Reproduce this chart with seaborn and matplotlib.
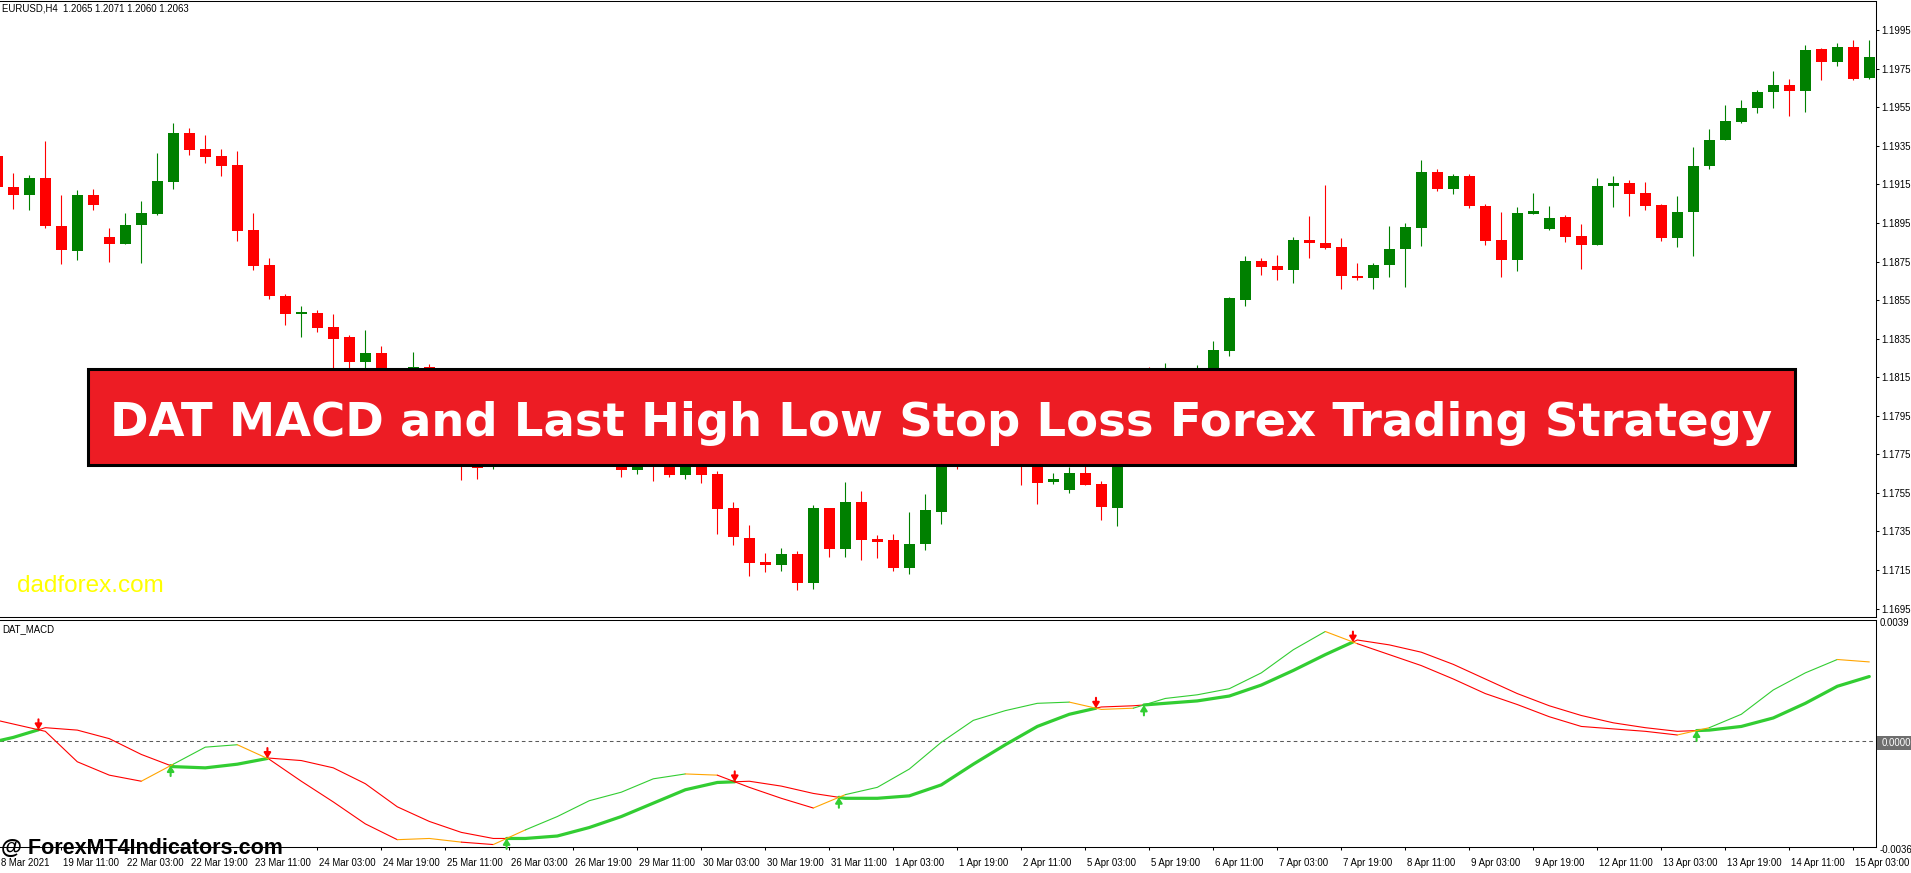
import numpy as np
import pandas as pd
import matplotlib
matplotlib.use("Agg")
import matplotlib.pyplot as plt
import matplotlib.transforms as mtransforms
from matplotlib.patches import Rectangle
import seaborn as sns

W, H = 1911, 873

# ---------------- data ----------------
bars = list(range(-1, 117))
opens = [1.19298, 1.19137, 1.19095, 1.19184, 1.18935, 1.18805, 1.19095, 1.18878, 1.18841, 1.18940,
         1.18997, 1.19163, 1.19417, 1.19334, 1.19298, 1.19251, 1.18914, 1.18732, 1.18571, 1.18478,
         1.18483, 1.18411, 1.18359, 1.18229, 1.18276, 1.18110, 1.18032, 1.18203, 1.18058, 1.17876,
         1.17747, 1.17684, 1.17747, 1.17824, 1.17773, 1.17850, 1.17783, 1.17835, 1.17762, 1.17731,
         1.17669, 1.17747, 1.17710, 1.17643, 1.17720, 1.17648, 1.17472, 1.17316, 1.17192, 1.17176,
         1.17233, 1.17083, 1.17472, 1.17259, 1.17503, 1.17311, 1.17306, 1.17160, 1.17285, 1.17451,
         1.17835, 1.17762, 1.17928, 1.17824, 1.17747, 1.17710, 1.17607, 1.17565, 1.17653, 1.17596,
         1.17472, 1.17902, 1.18136, 1.18032, 1.18162, 1.18084, 1.18146, 1.18286, 1.18551, 1.18753,
         1.18727, 1.18706, 1.18862, 1.18847, 1.18826, 1.18675, 1.18665, 1.18732, 1.18815, 1.18924,
         1.19215, 1.19127, 1.19194, 1.19038, 1.18862, 1.18758, 1.18997, 1.18919, 1.18981, 1.18883,
         1.18836, 1.19142, 1.19158, 1.19106, 1.19044, 1.18873, 1.19007, 1.19246, 1.19381, 1.19474,
         1.19547, 1.19630, 1.19666, 1.19635, 1.19853, 1.19785, 1.19863, 1.19702]
highs = [1.19329, 1.19210, 1.19199, 1.19376, 1.19095, 1.19121, 1.19127, 1.18924, 1.19002, 1.19064,
         1.19313, 1.19469, 1.19443, 1.19407, 1.19334, 1.19324, 1.19002, 1.18769, 1.18582, 1.18520,
         1.18499, 1.18478, 1.18369, 1.18395, 1.18312, 1.18162, 1.18281, 1.18219, 1.18110, 1.17902,
         1.17783, 1.17798, 1.17866, 1.17876, 1.17902, 1.17887, 1.17876, 1.17866, 1.17798, 1.17762,
         1.17773, 1.17783, 1.17747, 1.17762, 1.17747, 1.17664, 1.17503, 1.17383, 1.17238, 1.17264,
         1.17249, 1.17487, 1.17472, 1.17607, 1.17560, 1.17332, 1.17337, 1.17451, 1.17544, 1.17876,
         1.17902, 1.17980, 1.17970, 1.17876, 1.17798, 1.17747, 1.17653, 1.17684, 1.17690, 1.17612,
         1.17928, 1.18110, 1.18203, 1.18224, 1.18177, 1.18214, 1.18338, 1.18566, 1.18779, 1.18769,
         1.18784, 1.18878, 1.18987, 1.19147, 1.18873, 1.18743, 1.18743, 1.18935, 1.18950, 1.19277,
         1.19230, 1.19205, 1.19205, 1.19049, 1.19007, 1.19033, 1.19106, 1.19038, 1.18992, 1.18945,
         1.19184, 1.19194, 1.19173, 1.19163, 1.19049, 1.19090, 1.19345, 1.19438, 1.19562, 1.19588,
         1.19640, 1.19739, 1.19697, 1.19874, 1.19858, 1.19884, 1.19900, 1.19900]
lows = [1.19121, 1.19023, 1.19018, 1.18924, 1.18737, 1.18758, 1.19018, 1.18748, 1.18841, 1.18743,
        1.18992, 1.19127, 1.19303, 1.19262, 1.19194, 1.18857, 1.18706, 1.18556, 1.18421, 1.18359,
        1.18385, 1.18136, 1.18188, 1.18198, 1.18058, 1.17980, 1.17970, 1.18006, 1.17824, 1.17617,
        1.17622, 1.17674, 1.17720, 1.17742, 1.17747, 1.17731, 1.17747, 1.17720, 1.17710, 1.17632,
        1.17648, 1.17612, 1.17632, 1.17622, 1.17601, 1.17337, 1.17280, 1.17119, 1.17140, 1.17145,
        1.17046, 1.17051, 1.17218, 1.17218, 1.17202, 1.17212, 1.17145, 1.17129, 1.17254, 1.17389,
        1.17674, 1.17731, 1.17783, 1.17705, 1.17591, 1.17492, 1.17596, 1.17550, 1.17591, 1.17409,
        1.17378, 1.17876, 1.17980, 1.18006, 1.18042, 1.18058, 1.18110, 1.18260, 1.18520, 1.18681,
        1.18655, 1.18639, 1.18769, 1.18815, 1.18608, 1.18655, 1.18608, 1.18670, 1.18618, 1.18831,
        1.19116, 1.19101, 1.19028, 1.18836, 1.18670, 1.18701, 1.18997, 1.18914, 1.18852, 1.18712,
        1.18836, 1.19033, 1.18987, 1.19018, 1.18857, 1.18826, 1.18779, 1.19230, 1.19381, 1.19469,
        1.19521, 1.19547, 1.19505, 1.19526, 1.19692, 1.19765, 1.19692, 1.19697]
closes = [1.19137, 1.19095, 1.19184, 1.18935, 1.18810, 1.19095, 1.19044, 1.18841, 1.18940, 1.19002,
          1.19168, 1.19417, 1.19329, 1.19293, 1.19246, 1.18909, 1.18727, 1.18571, 1.18478, 1.18488,
          1.18405, 1.18348, 1.18229, 1.18276, 1.18110, 1.18032, 1.18203, 1.18058, 1.17876, 1.17710,
          1.17679, 1.17747, 1.17824, 1.17773, 1.17850, 1.17783, 1.17835, 1.17762, 1.17731, 1.17669,
          1.17731, 1.17695, 1.17643, 1.17720, 1.17643, 1.17467, 1.17321, 1.17186, 1.17176, 1.17233,
          1.17083, 1.17472, 1.17259, 1.17503, 1.17306, 1.17295, 1.17160, 1.17285, 1.17461, 1.17824,
          1.17762, 1.17928, 1.17824, 1.17731, 1.17684, 1.17601, 1.17622, 1.17653, 1.17591, 1.17477,
          1.17902, 1.18032, 1.18032, 1.18162, 1.18084, 1.18162, 1.18291, 1.18561, 1.18753, 1.18722,
          1.18706, 1.18862, 1.18847, 1.18821, 1.18675, 1.18665, 1.18732, 1.18815, 1.18930, 1.19215,
          1.19127, 1.19194, 1.19038, 1.18857, 1.18758, 1.19002, 1.19012, 1.18976, 1.18878, 1.18836,
          1.19142, 1.19158, 1.19101, 1.19038, 1.18873, 1.19007, 1.19246, 1.19381, 1.19479, 1.19547,
          1.19630, 1.19666, 1.19635, 1.19848, 1.19785, 1.19863, 1.19697, 1.19811]

price_ticks = [1.1695, 1.1715, 1.1735, 1.1755, 1.1775, 1.1795, 1.1815, 1.1835,
               1.1855, 1.1875, 1.1895, 1.1915, 1.1935, 1.1955, 1.1975, 1.1995]

time_bars = [3, 7, 11, 15, 19, 23, 27, 31, 35, 39, 43, 47, 51, 55, 59, 63, 67, 71, 75,
             79, 83, 87, 91, 95, 99, 103, 107, 111, 115]
time_labels = ["19 Mar 11:00", "22 Mar 03:00", "22 Mar 19:00", "23 Mar 11:00", "24 Mar 03:00",
               "24 Mar 19:00", "25 Mar 11:00", "26 Mar 03:00", "26 Mar 19:00", "29 Mar 11:00",
               "30 Mar 03:00", "30 Mar 19:00", "31 Mar 11:00", "1 Apr 03:00", "1 Apr 19:00",
               "2 Apr 11:00", "5 Apr 03:00", "5 Apr 19:00", "6 Apr 11:00", "7 Apr 03:00",
               "7 Apr 19:00", "8 Apr 11:00", "9 Apr 03:00", "9 Apr 19:00", "12 Apr 11:00",
               "13 Apr 03:00", "13 Apr 19:00", "14 Apr 11:00", "15 Apr 03:00"]
first_time_label = "8 Mar 2021"

macd_bars = [-1, 0, 2, 4, 6, 8, 10, 12, 14, 16, 18, 20, 22, 24, 26, 28, 30, 32, 34, 36, 38,
             40, 42, 44, 46, 48, 50, 52, 54, 56, 58, 60, 62, 64, 66, 68, 70, 72, 74, 76, 78,
             80, 82, 84, 86, 88, 90, 92, 94, 96, 98, 100, 102, 104, 106, 108, 110, 112, 114, 116]
macd_line = [0.000684, 0.000563, 0.000322, -0.000684, -0.001126, -0.001327, -0.000764, -0.000201,
             -0.000121, -0.000603, -0.001327, -0.002011, -0.002735, -0.003258, -0.003218, -0.003339,
             -0.003419, -0.002936, -0.002494, -0.001971, -0.001689, -0.001247, -0.001086, -0.001126,
             -0.001529, -0.001891, -0.002212, -0.001770, -0.001529, -0.000925, -0.000040, 0.000684,
             0.001006, 0.001247, 0.001287, 0.001046, 0.001086, 0.001408, 0.001529, 0.001730,
             0.002253, 0.003017, 0.003620, 0.003218, 0.002856, 0.002494, 0.002051, 0.001569,
             0.001207, 0.000804, 0.000483, 0.000402, 0.000322, 0.000201, 0.000442, 0.000885,
             0.001689, 0.002253, 0.002695, 0.002615]
signal_line = [0.000000, 0.000121, 0.000442, 0.000362, 0.000080, -0.000442, -0.000845, -0.000885,
               -0.000764, -0.000563, -0.000644, -0.000885, -0.001408, -0.002172, -0.002655, -0.003017,
               -0.003218, -0.003218, -0.003137, -0.002856, -0.002494, -0.002051, -0.001609, -0.001368,
               -0.001327, -0.001488, -0.001730, -0.001891, -0.001891, -0.001810, -0.001448, -0.000764,
               -0.000121, 0.000483, 0.000885, 0.001126, 0.001166, 0.001247, 0.001327, 0.001488,
               0.001850, 0.002333, 0.002856, 0.003339, 0.003178, 0.002936, 0.002534, 0.002051,
               0.001569, 0.001166, 0.000845, 0.000603, 0.000442, 0.000322, 0.000362, 0.000483,
               0.000764, 0.001247, 0.001810, 0.002132]

header_text = "EURUSD,H4  1.2065 1.2071 1.2060 1.2063"
indicator_name = "DAT_MACD"
indicator_scale_values = [0.0039, -0.0036]
indicator_scale_labels = ["0.0039", "-0.0036"]
zero_label = "0.0000"
title = "DAT MACD and Last High Low Stop Loss Forex Trading Strategy"
watermark_top = "dadforex.com"
watermark_bottom = "@ ForexMT4Indicators.com"

# ---------------- style ----------------
sns.set_theme(style="white")
plt.rcParams['font.family'] = ['Liberation Sans', 'DejaVu Sans']
plt.rcParams['axes.linewidth'] = 0.75

CANDLE_UP, CANDLE_DN = "#008000", "#FF0000"
LGREEN, ORANGE, LRED = "#32CD32", "#FFA500", "#FF0000"
SMALL = 6.9


def fx(x):
    return x / W


def fy(y):
    return 1 - y / H


fig = plt.figure(figsize=(W / 100, H / 100), dpi=100)
fig.patch.set_facecolor("white")

ax = fig.add_axes([0, fy(617), 1876 / W, (617 - 1) / H])
ax2 = fig.add_axes([0, fy(847), 1876 / W, (847 - 620) / H])

x_left, x_right = (0 - 13.3) / 16, (1876 - 13.3) / 16

# ---------------- candles ----------------
o = np.array(opens); h = np.array(highs); l = np.array(lows); c = np.array(closes)
xb = np.array(bars, float)
cols = [CANDLE_UP if cc >= oo else CANDLE_DN for oo, cc in zip(o, c)]
body_lo = np.minimum(o, c)
body_h = np.maximum(np.abs(c - o), 0.00004)
ax.vlines(xb, l, h, colors=cols, lw=0.8, zorder=2)
ax.bar(xb, body_h, bottom=body_lo, width=0.6875, color=cols, lw=0, zorder=3)

ax.set_xlim(x_left, x_right)
ax.set_ylim(1.16906, 1.20102)
ax.set_xticks([])
ax.set_yticks(price_ticks)
ax.set_yticklabels([f"{p:.4f}" for p in price_ticks])
ax.yaxis.tick_right()
ax.tick_params(axis='y', which='major', right=True, left=False, labelright=True, labelleft=False,
               length=2.5, width=0.75, pad=1.2, labelsize=SMALL, colors='black', direction='out')
for s in ['top', 'right', 'bottom']:
    ax.spines[s].set_visible(True)
    ax.spines[s].set_color('black')
    ax.spines[s].set_linewidth(0.75)
ax.spines['left'].set_visible(False)
ax.set_facecolor('white')

# ---------------- indicator ----------------
mx = np.array(macd_bars, float)
mv = np.array(macd_line)
sv = np.array(signal_line)

ax2.axhline(0, color='#5a5a5a', lw=0.75, dashes=(3.5, 3), zorder=1)


def draw_runs(xs, ys, colors, widths, axis, z):
    n = len(colors)
    k = 0
    while k < n:
        j = k
        while j + 1 < n and colors[j + 1] == colors[k] and widths[j + 1] == widths[k]:
            j += 1
        df = pd.DataFrame({"bar": xs[k:j + 2], "value": ys[k:j + 2]})
        sns.lineplot(data=df, x="bar", y="value", ax=axis, color=colors[k], linewidth=widths[k],
                     sort=False, estimator=None, zorder=z)
        k = j + 1


# signal line split at crossings: thick green when MACD above, thin red otherwise
d = mv - sv
sx, sy, sc, sw = [mx[0]], [sv[0]], [], []
cross_pts = []
for k in range(len(mx) - 1):
    if d[k] * d[k + 1] < 0:
        t = d[k] / (d[k] - d[k + 1])
        cx = mx[k] + t * (mx[k + 1] - mx[k])
        cy = sv[k] + t * (sv[k + 1] - sv[k])
        cross_pts.append((cx, cy, 'down' if d[k] > 0 else 'up'))
        sx.append(cx); sy.append(cy)
        sc.append(LGREEN if d[k] > 0 else LRED); sw.append(2.3 if d[k] > 0 else 0.8)
    sx.append(mx[k + 1]); sy.append(sv[k + 1])
    sc.append(LGREEN if d[k + 1] > 0 else LRED); sw.append(2.3 if d[k + 1] > 0 else 0.8)
draw_runs(sx, sy, sc, sw, ax2, 2)

# MACD line coloured by slope, orange on turns
slopes = np.sign(np.diff(mv))
mcols = []
for k, s in enumerate(slopes):
    if k > 0 and s != slopes[k - 1]:
        mcols.append(ORANGE)
    else:
        mcols.append(LGREEN if s > 0 else LRED)
draw_runs(list(mx), list(mv), mcols, [0.8] * len(mcols), ax2, 3)

for cx, cy, kind in cross_pts:
    col = LRED if kind == 'down' else LGREEN
    off = 7.5 if kind == 'down' else -7.5
    ax2.annotate('', xy=(cx, cy), xytext=(0, off), textcoords='offset points',
                 arrowprops=dict(arrowstyle='-|>,head_length=0.32,head_width=0.2', color=col,
                                 lw=1.5, shrinkA=0, shrinkB=0, mutation_scale=10), zorder=5)

ax2.set_xlim(x_left, x_right)
ax2.set_ylim(-0.0035, 0.0040)
ax2.set_xlabel('')
ax2.set_ylabel('')
ax2.set_yticks([])
ax2.set_xticks(time_bars)
ax2.set_xticklabels([])
ax2.tick_params(axis='x', which='major', bottom=True, direction='out', length=2.5, width=0.75,
                colors='black')
for s in ['top', 'right', 'bottom']:
    ax2.spines[s].set_visible(True)
    ax2.spines[s].set_color('black')
    ax2.spines[s].set_linewidth(0.75)
ax2.spines['left'].set_visible(False)
ax2.set_facecolor('white')

# time labels
tl_trans = mtransforms.offset_copy(mtransforms.blended_transform_factory(ax2.transData, fig.transFigure),
                                   fig=fig, x=2, y=0, units='dots')
for b, lab in zip(time_bars, time_labels):
    ax2.text(b, fy(865.5), lab, transform=tl_trans, ha='left', va='baseline', fontsize=SMALL,
             color='black', clip_on=False)
fig.text(fx(1), fy(865.5), first_time_label, ha='left', va='baseline', fontsize=SMALL, color='black')

# indicator scale labels
ind_trans = mtransforms.blended_transform_factory(fig.transFigure, ax2.transData)
for v, lab in zip(indicator_scale_values, indicator_scale_labels):
    ax2.text(fx(1879.5), v, lab, transform=ind_trans, ha='left', va='center', fontsize=SMALL,
             color='black', clip_on=False)
zero_box = Rectangle((fx(1877), fy(749.5)), (1911 - 1877) / W, 13.5 / H, transform=fig.transFigure,
                     facecolor='#6e6e6e', edgecolor='none', zorder=4)
fig.add_artist(zero_box)
fig.text(fx(1881.5), fy(742.7), zero_label, ha='left', va='center', fontsize=SMALL,
         color='white', zorder=6)

# ---------------- texts & banner ----------------
fig.text(fx(2), fy(11.5), header_text, ha='left', va='baseline', fontsize=SMALL, color='black')
fig.text(fx(2), fy(632.5), indicator_name, ha='left', va='baseline', fontsize=SMALL, color='black')
fig.text(fx(17), fy(591.5), watermark_top, ha='left', va='baseline', fontsize=17.5, color='#FFFF00')
fig.text(fx(1), fy(854), watermark_bottom, ha='left', va='baseline', fontsize=15.5,
         fontweight='bold', color='black', zorder=8)

fig.add_artist(Rectangle((fx(88), fy(465)), (1795 - 88) / W, (465 - 369) / H, transform=fig.transFigure,
                         facecolor='#ED1C24', edgecolor='black', linewidth=2.2, zorder=10))
fig.text(fx(941.5), fy(435.5), title, ha='center', va='baseline', fontsize=33.5, fontweight='bold',
         color='white', family=['DejaVu Sans'], zorder=11)

fig.savefig("out.png", dpi=100, facecolor='white')
